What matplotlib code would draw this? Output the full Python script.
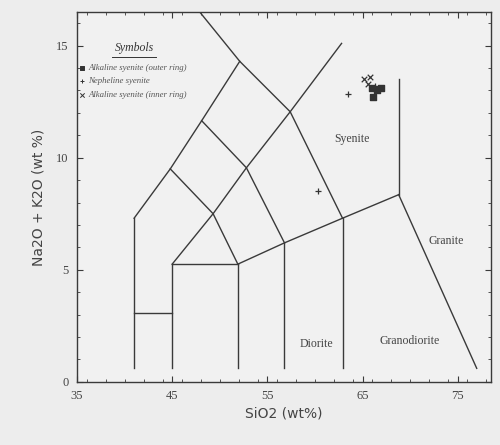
import matplotlib
matplotlib.use("Agg")
import matplotlib.pyplot as plt
from matplotlib.ticker import MultipleLocator

# ---- field boundaries (SiO2, Na2O+K2O) ----
bound_left_x = [41.0, 44.8, 48.1, 52.1]
bound_left_y = [7.3, 9.5, 11.65, 14.3]
bound_upper_x = [47.9, 52.1, 57.4, 62.9]
bound_upper_y = [16.5, 14.3, 12.05, 7.3]
bound_mid_a_x = [44.8, 49.3, 51.9]
bound_mid_a_y = [9.5, 7.5, 5.25]
bound_mid_b_x = [48.1, 52.8, 56.8]
bound_mid_b_y = [11.65, 9.55, 6.2]
bound_diag_x = [45.0, 49.3, 52.8, 57.4, 62.8]
bound_diag_y = [5.25, 7.5, 9.55, 12.05, 15.1]
bound_lower_x = [51.9, 56.8, 62.9, 68.8]
bound_lower_y = [5.25, 6.2, 7.3, 8.35]
bound_granite_x = [68.8, 77.0]
bound_granite_y = [8.35, 0.6]
bound_vert68_x = [68.8, 68.8]
bound_vert68_y = [8.35, 13.5]
vert_x = [41.0, 45.0, 51.9, 56.8, 62.9]
vert_top = [7.3, 5.25, 5.25, 6.2, 7.3]
vert_bottom = 0.6
hor_y = [3.05, 5.25]
hor_x0 = [41.0, 45.0]
hor_x1 = [45.0, 51.9]

# ---- samples ----
outer_x = [66.0, 66.5, 66.1, 66.9]
outer_y = [13.1, 13.0, 12.7, 13.1]
neph_x = [63.45, 60.3, 66.3]
neph_y = [12.85, 8.5, 13.2]
inner_x = [65.2, 65.75, 65.55]
inner_y = [13.5, 13.6, 13.3]

# ---- labels ----
field_names = ["Syenite", "Granite", "Diorite", "Granodiorite"]
field_x = [63.9, 73.8, 60.2, 70.0]
field_y = [10.85, 6.3, 1.7, 1.83]
legend_title = "Symbols"
legend_items = ["Alkaline syenite (outer ring)", "Nepheline syenite",
                "Alkaline syenite (inner ring)"]
xticks = [35, 45, 55, 65, 75]
yticks = [0, 5, 10, 15]

bg = "#ededed"
lc = "#3a3a3a"
fig = plt.figure(figsize=(5, 4.45), dpi=100, facecolor=bg)
ax = fig.add_axes([0.154, 0.142, 0.828, 0.831], facecolor="#f1f1f1")
ax.set_xlim(35, 78.5)
ax.set_ylim(0, 16.5)

kw = dict(color=lc, lw=1.0)
for xs, ys in [(bound_left_x, bound_left_y), (bound_upper_x, bound_upper_y),
               (bound_mid_a_x, bound_mid_a_y), (bound_mid_b_x, bound_mid_b_y),
               (bound_diag_x, bound_diag_y), (bound_lower_x, bound_lower_y),
               (bound_granite_x, bound_granite_y), (bound_vert68_x, bound_vert68_y)]:
    ax.plot(xs, ys, **kw)
for vx, vt in zip(vert_x, vert_top):
    ax.plot([vx, vx], [vert_bottom, vt], **kw)
for hy, a, b in zip(hor_y, hor_x0, hor_x1):
    ax.plot([a, b], [hy, hy], **kw)

ax.scatter(outer_x, outer_y, marker="s", s=14, color="#333333", zorder=3)
ax.scatter(neph_x, neph_y, marker="+", s=22, color="#333333", linewidths=0.9, zorder=3)
ax.scatter(inner_x, inner_y, marker="x", s=16, color="#333333", linewidths=0.9, zorder=3)

serif = "Liberation Serif"
for n, x, y in zip(field_names, field_x, field_y):
    ax.text(x, y, n, ha="center", va="center", fontsize=8.5, family=serif, color="#444444")

# legend block
ax.text(41.0, 14.9, legend_title, fontsize=8.5, family=serif, style="italic",
        color="#333333", ha="center", va="center")
ax.plot([38.7, 43.3], [14.5, 14.5], color="#333333", lw=0.7)
ly = [14.0, 13.4, 12.8]
lm = ["s", "+", "x"]
for t, y, m in zip(legend_items, ly, lm):
    ax.scatter([35.55], [y], marker=m, s=10, color="#333333", linewidths=0.7)
    ax.text(36.2, y, t, fontsize=6.3, family=serif, style="italic",
            color="#555555", va="center")

ax.set_xticks(xticks)
ax.set_yticks(yticks)
ax.xaxis.set_minor_locator(MultipleLocator(2))
ax.yaxis.set_minor_locator(MultipleLocator(1))
ax.tick_params(which="both", direction="in", top=True, right=True, color=lc)
ax.tick_params(which="major", length=4, labelsize=9, pad=6)
ax.tick_params(which="minor", length=2.5)
for lab in ax.get_xticklabels() + ax.get_yticklabels():
    lab.set_family(serif)
    lab.set_color("#444444")
for s in ax.spines.values():
    s.set_color(lc)
    s.set_linewidth(1.0)

ax.set_xlabel("SiO2 (wt%)", fontsize=10, color="#444444", labelpad=3)
ax.set_ylabel("Na2O + K2O (wt %)", fontsize=10, color="#444444", labelpad=8)

fig.savefig("out.png", dpi=100, facecolor=bg)
